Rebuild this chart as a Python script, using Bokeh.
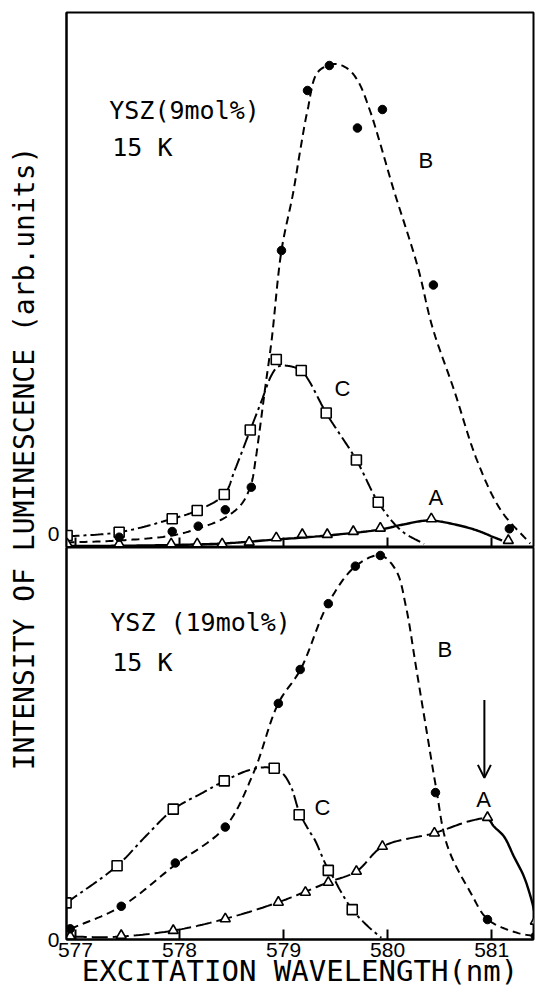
import numpy as np
from bokeh.plotting import figure
from bokeh.layouts import row, column
from bokeh.models import Range1d, FixedTicker, Label, Arrow, OpenHead
from bokeh.embed import file_html
from bokeh.resources import INLINE

# ---------------------------------------------------------------------------
# Excitation spectra of Eu-site luminescence, YSZ at 15 K (intensity, arb. units)
# ---------------------------------------------------------------------------
X_TICKS = [577, 578, 579, 580, 581]
X_START, X_END = 576.914, 581.402

# --- YSZ (9 mol%) -----------------------------------------------------------
top_b_x = [577.42, 577.93, 578.18, 578.44, 578.69, 578.98, 579.23, 579.44, 579.71, 579.95, 580.44, 581.17]
top_b_y = [2.06, 3.2, 4.26, 7.54, 12.06, 59.4, 91.4, 96.4, 83.9, 87.6, 52.5, 3.74]
top_c_x = [576.92, 577.42, 577.93, 578.17, 578.43, 578.68, 578.93, 579.17, 579.41, 579.70, 579.91]
top_c_y = [2.4, 3.06, 5.74, 7.4, 10.6, 23.5, 37.6, 35.4, 26.9, 17.5, 9.06]
top_a_x = [576.92, 577.42, 577.92, 578.17, 578.41, 578.67, 578.93, 579.18, 579.42, 579.67, 579.93, 580.42, 581.16]
top_a_y = [0.74, 0.74, 0.74, 0.74, 0.74, 1.06, 1.94, 2.6, 2.6, 3.2, 3.86, 5.74, 1.4]

# hand-drawn guide curves (knots)
top_b_curve_x = [576.914, 577.42, 577.93, 578.18, 578.44, 578.60, 578.69, 578.73, 578.77, 578.82, 578.885,
                 578.98, 579.09, 579.16, 579.23, 579.33, 579.49, 579.62, 579.72, 579.83, 579.92, 580.05,
                 580.29, 580.43, 580.64, 580.86, 581.09, 581.37]
top_b_curve_y = [1.0, 1.4, 2.4, 3.8, 6.0, 8.8, 12.8, 17.4, 23.4, 31.4, 41.4,
                 59.4, 70.7, 79.4, 87.4, 95.1, 96.7, 95.7, 93.1, 87.4, 81.4, 72.1,
                 56.1, 44.1, 31.4, 17.4, 7.4, 0.8]
top_c_curve_x = [576.914, 577.42, 577.93, 578.17, 578.43, 578.53, 578.68, 578.79, 578.885, 578.95, 579.05,
                 579.17, 579.24, 579.41, 579.70, 579.91, 580.13, 580.35]
top_c_curve_y = [2.2, 3.06, 5.74, 7.4, 10.6, 15.4, 23.5, 29.4, 34.5, 36.2, 36.3,
                 35.4, 33.5, 26.9, 17.5, 9.06, 3.4, 0.7]
top_a_curve_x = [576.914, 577.42, 577.93, 578.41, 578.93, 579.42, 579.93, 580.15, 580.40, 580.67, 580.86,
                 581.02, 581.10]
top_a_curve_y = [0.3, 0.35, 0.5, 0.8, 1.6, 2.4, 3.6, 4.6, 5.4, 4.5, 3.4, 2.06, 1.4]

# --- YSZ (19 mol%) ----------------------------------------------------------
bot_b_x = [576.95, 577.44, 577.96, 578.44, 578.95, 579.16, 579.43, 579.69, 579.93, 580.46, 580.96, 581.42]
bot_b_y = [2.14, 6.66, 15.34, 22.54, 47.34, 54.14, 67.34, 74.86, 77.0, 29.46, 4.0, 0.66]
bot_c_x = [576.91, 577.40, 577.94, 578.43, 578.91, 579.15, 579.43, 579.66]
bot_c_y = [7.34, 14.8, 26.14, 31.8, 34.34, 25.0, 13.86, 6.0]
bot_a_x = [576.95, 577.44, 577.94, 578.44, 578.95, 579.21, 579.43, 579.70, 579.95, 580.45, 580.96, 581.42]
bot_a_y = [0.66, 0.8, 1.8, 4.14, 7.46, 9.46, 11.46, 13.66, 18.66, 21.34, 24.46, 3.66]

bot_b_curve_x = [576.955, 577.443, 577.96, 578.438, 578.71, 578.949, 579.163, 579.428, 579.692, 579.931,
                 580.081, 580.177, 580.273, 580.368, 580.464, 580.576, 580.799, 580.964, 581.246, 581.421]
bot_b_curve_y = [2.14, 6.66, 15.0, 22.54, 33.34, 47.34, 54.14, 67.34, 74.86, 77.0,
                 74.0, 66.66, 54.66, 42.66, 30.66, 18.66, 9.34, 4.0, 1.34, 0.66]
bot_c_curve_x = [576.914, 577.402, 577.673, 577.944, 578.215, 578.433, 578.66, 578.85, 578.98, 579.07,
                 579.15, 579.24, 579.30, 579.40, 579.49, 579.54, 579.66, 579.81, 579.94]
bot_c_curve_y = [7.34, 14.8, 20.66, 26.14, 29.34, 31.8, 33.9, 34.5, 33.5, 30.7,
                 25.6, 22.0, 20.0, 15.3, 12.0, 10.0, 6.0, 2.66, 0.34]
bot_a_curve_x = [576.955, 577.354, 577.944, 578.438, 578.949, 579.428, 579.70, 579.954, 580.448, 580.80,
                 580.96, 581.022, 581.118, 581.213, 581.309, 581.373, 581.405, 581.421]
bot_a_curve_y = [0.6, 0.5, 1.8, 4.14, 7.46, 11.46, 13.66, 18.66, 21.34, 23.8,
                 24.2, 22.66, 20.66, 16.66, 12.66, 8.66, 6.0, 3.66]
BOT_A_PEAK = 580.96   # dashed up to here, solid beyond


def smooth(xs, ys, sx=104.5, sy=5.0, n=20):
    """Centripetal Catmull-Rom curve through the knots (computed in screen aspect)."""
    P = np.column_stack([np.asarray(xs, float) * sx, np.asarray(ys, float) * sy])
    P = np.vstack([2 * P[0] - P[1], P, 2 * P[-1] - P[-2]])
    out = [P[1]]
    for i in range(1, len(P) - 2):
        p0, p1, p2, p3 = P[i - 1], P[i], P[i + 1], P[i + 2]
        d = lambda a, b: max(np.hypot(*(b - a)) ** 0.5, 1e-6)
        t0 = 0.0
        t1 = t0 + d(p0, p1)
        t2 = t1 + d(p1, p2)
        t3 = t2 + d(p2, p3)
        t = np.linspace(t1, t2, n + 1)[1:, None]
        a1 = (t1 - t) / (t1 - t0) * p0 + (t - t0) / (t1 - t0) * p1
        a2 = (t2 - t) / (t2 - t1) * p1 + (t - t1) / (t2 - t1) * p2
        a3 = (t3 - t) / (t3 - t2) * p2 + (t - t2) / (t3 - t2) * p3
        b1 = (t2 - t) / (t2 - t0) * a1 + (t - t0) / (t2 - t0) * a2
        b2 = (t3 - t) / (t3 - t1) * a2 + (t - t1) / (t3 - t1) * a3
        c = (t2 - t) / (t2 - t1) * b1 + (t - t1) / (t2 - t1) * b2
        out.extend(c)
    out = np.array(out)
    return out[:, 0] / sx, out[:, 1] / sy


TICK_FONT = "Liberation Sans"
MONO = "DejaVu Sans Mono"
B_DASH = "8 5"
C_DASH = "13 4 3 4"
A_DASH = "16 5"


def make_panel(height, y_max, top_border, show_x_labels):
    p = figure(width=493, height=height, x_range=Range1d(X_START, X_END), y_range=Range1d(0, y_max),
               output_backend="svg", toolbar_location=None,
               min_border_left=20, min_border_right=4, min_border_top=top_border, min_border_bottom=0)
    p.grid.visible = False
    p.background_fill_color = "white"
    p.border_fill_color = "white"
    p.outline_line_color = "black"
    p.outline_line_width = 2

    xa = p.xaxis[0]
    xa.ticker = FixedTicker(ticks=X_TICKS)
    xa.major_tick_in = 10
    xa.major_tick_out = 0
    xa.minor_tick_line_color = None
    xa.axis_line_width = 2
    xa.major_tick_line_width = 2
    if show_x_labels:
        xa.major_label_text_font = TICK_FONT
        xa.major_label_text_font_size = "21px"
        xa.major_label_text_color = "black"
        xa.major_label_standoff = 3
        xa.axis_label = "EXCITATION WAVELENGTH(nm)"
        xa.axis_label_text_font = MONO
        xa.axis_label_text_font_size = "29px"
        xa.axis_label_text_font_style = "normal"
        xa.axis_label_text_color = "black"
        xa.axis_label_standoff = -6
    else:
        xa.major_label_overrides = {t: "" for t in X_TICKS}
        xa.major_label_text_font_size = "0px"
        xa.major_label_standoff = 0

    ya = p.yaxis[0]
    ya.ticker = FixedTicker(ticks=[0])
    ya.major_tick_in = 0
    ya.major_tick_out = 0
    ya.minor_tick_line_color = None
    ya.axis_line_width = 2
    ya.major_label_text_font = TICK_FONT
    ya.major_label_text_font_size = "21px"
    ya.major_label_text_color = "black"
    ya.major_label_standoff = 7
    return p


def draw_markers(p, bx, by, cx, cy, ax, ay):
    p.scatter(cx, cy, marker="square", size=10, fill_color="white", line_color="black", line_width=1.6)
    p.scatter(ax, ay, marker="triangle", size=10, fill_color="white", line_color="black", line_width=1.6)
    p.scatter(bx, by, marker="circle", size=8.5, fill_color="black", line_color="black")


def add_text(p, x, y, text, size, font=TICK_FONT, align="center", baseline="middle"):
    p.add_layout(Label(x=x, y=y, text=text, text_font=font, text_font_size=size,
                       text_color="black", text_align=align, text_baseline=baseline))


# ---- upper panel: YSZ (9 mol%) ----
top = make_panel(547, 107, 12, False)
x, y = smooth(top_b_curve_x, top_b_curve_y)
top.line(x, y, line_color="black", line_width=2, line_dash=B_DASH)
x, y = smooth(top_c_curve_x, top_c_curve_y)
top.line(x, y, line_color="black", line_width=2, line_dash=C_DASH)
x, y = smooth(top_a_curve_x, top_a_curve_y)
top.line(x, y, line_color="black", line_width=2.4)
draw_markers(top, top_b_x, top_b_y, top_c_x, top_c_y, top_a_x, top_a_y)
add_text(top, 577.325, 87.4, "YSZ(9mol%)", "25px", font=MONO, align="left", baseline="alphabetic")
add_text(top, 577.354, 80.0, "15 K", "25px", font=MONO, align="left", baseline="alphabetic")
add_text(top, 580.368, 77.4, "B", "22px")
add_text(top, 579.565, 31.8, "C", "22px")
add_text(top, 580.464, 10.0, "A", "22px")

# ---- lower panel: YSZ (19 mol%) ----
bot = make_panel(443, 78.6, 0, True)
x, y = smooth(bot_b_curve_x, bot_b_curve_y)
bot.line(x, y, line_color="black", line_width=2, line_dash=B_DASH)
x, y = smooth(bot_c_curve_x, bot_c_curve_y)
bot.line(x, y, line_color="black", line_width=2, line_dash=C_DASH)
x, y = smooth(bot_a_curve_x, bot_a_curve_y)
left = x <= BOT_A_PEAK
bot.line(x[left], y[left], line_color="black", line_width=2, line_dash=A_DASH)
right = x >= BOT_A_PEAK
bot.line(x[right], y[right], line_color="black", line_width=2.4)
draw_markers(bot, bot_b_x, bot_b_y, bot_c_x, bot_c_y, bot_a_x, bot_a_y)
add_text(bot, 577.335, 63.6, "YSZ (19mol%)", "25px", font=MONO, align="left", baseline="alphabetic")
add_text(bot, 577.354, 55.6, "15 K", "25px", font=MONO, align="left", baseline="alphabetic")
add_text(bot, 580.55, 58.2, "B", "22px")
add_text(bot, 579.373, 26.4, "C", "22px")
add_text(bot, 580.923, 28.0, "A", "22px")
bot.add_layout(Arrow(end=OpenHead(size=13, line_width=2, line_color="black"),
                     x_start=580.93, y_start=48.0, x_end=580.93, y_end=32.4,
                     line_width=2, line_color="black"))

# ---- shared vertical axis title ----
ylab = figure(width=44, height=990, x_range=Range1d(0, 44), y_range=Range1d(0, 990),
              output_backend="svg", toolbar_location=None,
              min_border_left=0, min_border_right=0, min_border_top=0, min_border_bottom=0)
ylab.axis.visible = False
ylab.grid.visible = False
ylab.outline_line_color = None
ylab.background_fill_color = "white"
ylab.border_fill_color = "white"
ylab.add_layout(Label(x=24, y=532, text="INTENSITY OF LUMINESCENCE (arb.units)", angle=np.pi / 2,
                      text_font=MONO, text_font_size="28px", text_color="black",
                      text_align="center", text_baseline="middle"))

layout = row(ylab, column(top, bot, spacing=0), spacing=0)
open("out.html", "w").write(file_html(layout, INLINE))
